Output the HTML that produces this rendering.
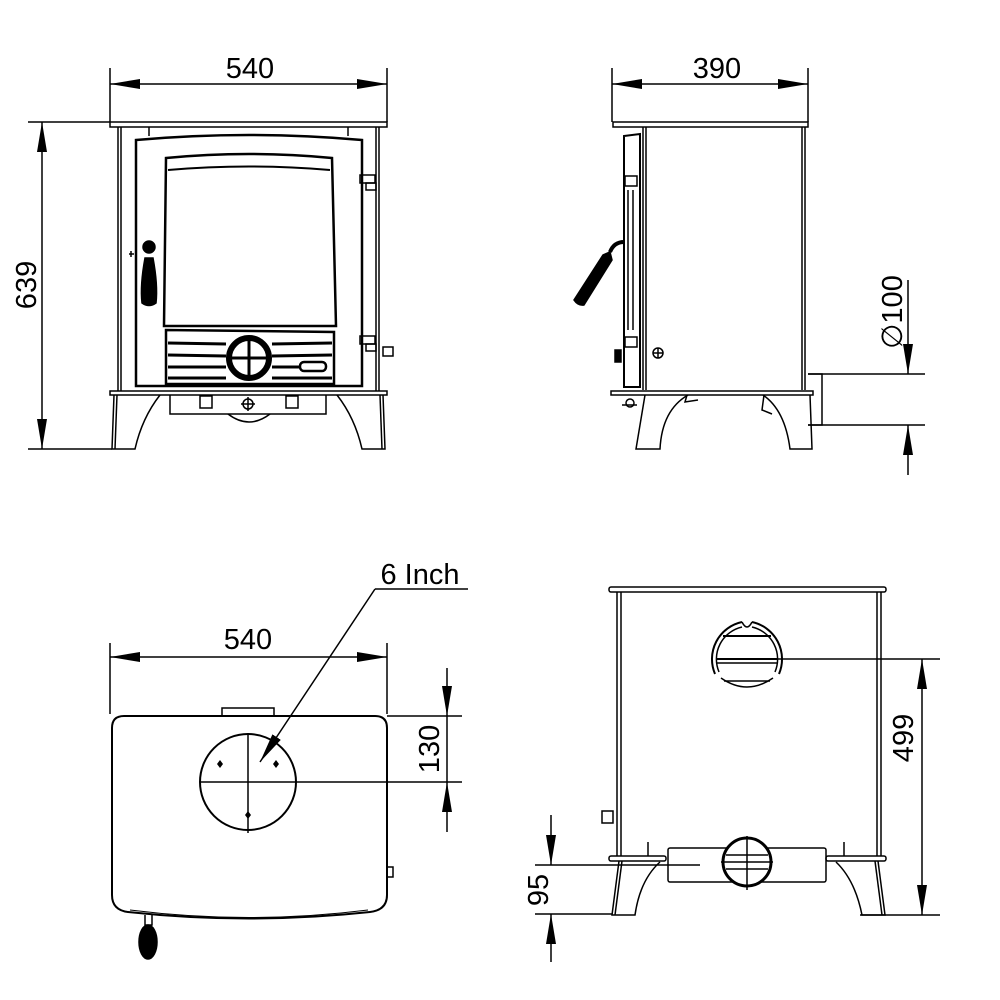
<!DOCTYPE html>
<html><head><meta charset="utf-8"><style>
html,body{margin:0;padding:0;background:#fff}
svg{display:block}
text{font-family:"Liberation Sans",Arial,sans-serif;fill:#000}
</style></head><body>
<svg width="1000" height="1000" viewBox="0 0 1000 1000" xmlns="http://www.w3.org/2000/svg">
<defs>
<marker id="a" viewBox="0 0 30 10" refX="30" refY="5" markerWidth="30" markerHeight="10" markerUnits="userSpaceOnUse" orient="auto"><path d="M0,0 L30,5 L0,10 z" fill="#000"/></marker>
</defs>
<g fill="none" stroke="#000" stroke-width="1.5">
<line x1="110" y1="68" x2="110" y2="122"/><line x1="387" y1="68" x2="387" y2="122"/>
<line x1="140" y1="84" x2="110" y2="84" marker-end="url(#a)"/>
<line x1="357" y1="84" x2="387" y2="84" marker-end="url(#a)"/>
<line x1="140" y1="84" x2="357" y2="84"/>
<line x1="28" y1="122" x2="110" y2="122"/><line x1="28" y1="449" x2="112" y2="449"/>
<line x1="42" y1="152" x2="42" y2="122" marker-end="url(#a)"/>
<line x1="42" y1="419" x2="42" y2="449" marker-end="url(#a)"/>
<line x1="42" y1="152" x2="42" y2="419"/>
<rect x="110" y="122" width="277" height="5"/>
<line x1="118" y1="127" x2="118" y2="391"/><line x1="121" y1="127" x2="121" y2="391"/>
<line x1="376" y1="127" x2="376" y2="391"/><line x1="379" y1="127" x2="379" y2="391"/>
<line x1="149" y1="127" x2="149" y2="136"/><line x1="348" y1="127" x2="348" y2="136"/>
<path d="M136,140 Q249,130 362,140 L362,386 L136,386 Z" stroke-width="2.5"/>
<path d="M166,158 Q249,150 332,158 L336,326 L164,326 Z" stroke-width="2.5"/>
<path d="M168,170 Q249,163 330,170" stroke-width="2"/>
<path d="M166,330 L334,332 L334,384 L166,384 Z" stroke-width="2.5"/>
<line x1="168" y1="343" x2="226" y2="344" stroke-width="3"/><line x1="272" y1="344" x2="332" y2="343" stroke-width="3"/>
<line x1="168" y1="355" x2="226" y2="356" stroke-width="3"/><line x1="272" y1="356" x2="332" y2="355" stroke-width="3"/>
<line x1="168" y1="367" x2="226" y2="367" stroke-width="3"/><line x1="272" y1="367" x2="300" y2="367" stroke-width="3"/>
<line x1="168" y1="378" x2="226" y2="378" stroke-width="3"/><line x1="272" y1="378" x2="332" y2="378" stroke-width="3"/>
<circle cx="249" cy="358" r="20" stroke-width="6" fill="#fff"/>
<line x1="232" y1="358" x2="266" y2="358" stroke-width="3"/><line x1="249" y1="341" x2="249" y2="375" stroke-width="3"/>
<rect x="300" y="362" width="26" height="9" rx="4" stroke-width="2.5"/>
<circle cx="149" cy="247" r="6" fill="#000"/>
<path d="M145,258 L153,258 Q158,285 156,303 Q149,308 142,303 Q140,285 145,258 Z" fill="#000"/>
<line x1="129" y1="254" x2="134" y2="254"/><line x1="131" y1="251" x2="131" y2="257"/>
<rect x="360" y="175" width="15" height="8"/><rect x="366" y="183" width="10" height="7"/>
<rect x="360" y="336" width="15" height="8"/><rect x="366" y="344" width="10" height="7"/>
<rect x="383" y="347" width="10" height="9"/>
<rect x="110" y="391" width="277" height="4"/>
<path d="M170,395 L170,414 L326,414 L326,395"/>
<path d="M228,414 Q249,430 270,414"/>
<rect x="200" y="396" width="12" height="12"/><rect x="286" y="396" width="12" height="12"/>
<circle cx="248" cy="404" r="5"/><line x1="248" y1="397" x2="248" y2="411"/><line x1="241" y1="404" x2="255" y2="404"/>
<path d="M114,395 L112,449 L135,449 Q142,418 160,395"/>
<line x1="117" y1="395" x2="115" y2="449"/>
<path d="M383,395 L385,449 L362,449 Q355,418 337,395"/>
<line x1="380" y1="395" x2="382" y2="449"/>

<line x1="612" y1="68" x2="612" y2="122"/><line x1="808" y1="68" x2="808" y2="122"/>
<line x1="642" y1="84" x2="612" y2="84" marker-end="url(#a)"/>
<line x1="778" y1="84" x2="808" y2="84" marker-end="url(#a)"/>
<line x1="642" y1="84" x2="778" y2="84"/>
<rect x="613" y="122" width="195" height="5"/>
<line x1="643" y1="127" x2="643" y2="390"/><line x1="646" y1="127" x2="646" y2="390"/>
<line x1="802" y1="127" x2="802" y2="390"/><line x1="805" y1="127" x2="805" y2="390"/>
<path d="M624,136 L640,134 L640,387 L624,387 Z" stroke-width="2"/>
<line x1="628" y1="190" x2="628" y2="330"/><line x1="633" y1="190" x2="633" y2="330"/>
<rect x="625" y="176" width="12" height="10"/><rect x="625" y="337" width="12" height="10"/>
<rect x="615" y="350" width="6" height="12" fill="#000"/>
<circle cx="658" cy="353" r="5"/><line x1="653" y1="353" x2="663" y2="353"/><line x1="658" y1="348" x2="658" y2="358"/>
<path d="M624,242 Q614,242 610,252" stroke-width="4"/>
<path d="M610,252 L603,255 L574,300 Q578,306 584,305 L612,260 Z" fill="#000"/>
<rect x="611" y="391" width="202" height="4"/>
<circle cx="630" cy="403" r="4"/><line x1="622" y1="405" x2="637" y2="405"/>
<path d="M687,395 L685,402 L698,400"/>
<path d="M764,395 L762,410 L772,414"/>
<path d="M645,395 L636,449 L660,449 Q662,410 688,395"/>
<path d="M810,395 L812,449 L790,449 Q785,410 763,395"/>
<path d="M808,374 L822,374 L822,425 L808,425"/>
<line x1="808" y1="374" x2="925" y2="374"/><line x1="808" y1="425" x2="925" y2="425"/>
<line x1="908" y1="280" x2="908" y2="374" marker-end="url(#a)"/>
<line x1="908" y1="475" x2="908" y2="425" marker-end="url(#a)"/>

<line x1="110" y1="643" x2="110" y2="714"/><line x1="387" y1="643" x2="387" y2="714"/>
<line x1="140" y1="657" x2="110" y2="657" marker-end="url(#a)"/>
<line x1="357" y1="657" x2="387" y2="657" marker-end="url(#a)"/>
<line x1="140" y1="657" x2="357" y2="657"/>
<path d="M124,716 L375,716 Q387,716 387,728 L387,895 Q387,910 370,912 Q249,925 128,912 Q112,910 112,895 L112,728 Q112,716 124,716 Z" stroke-width="2"/>
<path d="M130,910 Q249,925 368,910" stroke-width="1"/>
<rect x="222" y="708" width="52" height="8"/>
<rect x="387" y="867" width="6" height="10"/>
<circle cx="248" cy="782" r="48" stroke-width="2"/>
<line x1="200" y1="782" x2="462" y2="782"/><line x1="248" y1="733" x2="248" y2="833"/>
<line x1="387" y1="716" x2="462" y2="716"/>
<line x1="447" y1="668" x2="447" y2="716" marker-end="url(#a)"/>
<line x1="447" y1="832" x2="447" y2="782" marker-end="url(#a)"/>
<line x1="447" y1="716" x2="447" y2="782"/>
<line x1="375" y1="589" x2="260" y2="762" marker-end="url(#a)"/>
<line x1="375" y1="589" x2="468" y2="589"/>
<path d="M145,915 L145,925 L152,925 L152,915" />
<ellipse cx="148" cy="942" rx="9" ry="17" fill="#000"/>

<rect x="609" y="587" width="277" height="5" rx="2"/>
<line x1="617" y1="592" x2="617" y2="856"/><line x1="621" y1="592" x2="621" y2="856"/>
<line x1="877" y1="592" x2="877" y2="856"/><line x1="881" y1="592" x2="881" y2="856"/>
<path d="M742,622 A38,38 0 0 0 715,674 M752,622 A38,38 0 0 1 779,674" stroke-width="2"/>
<path d="M742,627 A33,33 0 0 0 719,672 M752,627 A33,33 0 0 1 775,672"/>
<path d="M742,622 Q747,632 752,622"/>
<line x1="723" y1="636" x2="771" y2="636" stroke-width="2"/>
<line x1="716" y1="659" x2="778" y2="659" stroke-width="2"/>
<line x1="716" y1="663" x2="778" y2="663"/>
<path d="M721,678 Q747,696 773,678"/><path d="M724,681 L770,681"/>
<line x1="747" y1="659" x2="940" y2="659"/>
<line x1="860" y1="915" x2="940" y2="915"/>
<line x1="922" y1="689" x2="922" y2="659" marker-end="url(#a)"/>
<line x1="922" y1="885" x2="922" y2="915" marker-end="url(#a)"/>
<line x1="922" y1="689" x2="922" y2="885"/>
<rect x="602" y="811" width="11" height="12"/>
<rect x="609" y="856" width="57" height="5" rx="2"/><rect x="826" y="856" width="60" height="5" rx="2"/>
<rect x="668" y="848" width="158" height="34" rx="2"/>
<circle cx="747" cy="862" r="24" stroke-width="3" fill="#fff"/>
<line x1="721" y1="862" x2="773" y2="862"/><line x1="747" y1="836" x2="747" y2="890"/>
<line x1="726" y1="855" x2="768" y2="855"/><line x1="726" y1="869" x2="768" y2="869"/>
<line x1="648" y1="842" x2="648" y2="856"/><line x1="844" y1="842" x2="844" y2="856"/>
<path d="M619,861 L612,915 L635,915 Q640,880 660,862"/>
<line x1="622" y1="861" x2="615" y2="915"/>
<path d="M878,861 L885,915 L862,915 Q855,880 836,862"/>
<line x1="875" y1="861" x2="882" y2="915"/>
<line x1="535" y1="865" x2="700" y2="865"/>
<line x1="535" y1="914" x2="612" y2="914"/>
<line x1="551" y1="815" x2="551" y2="865" marker-end="url(#a)"/>
<line x1="551" y1="962" x2="551" y2="914" marker-end="url(#a)"/>
</g>
<g fill="#000">
<path d="M220,760 l3,4 -3,4 -3,-4z"/><path d="M276,760 l3,4 -3,4 -3,-4z"/><path d="M248,811 l3,4 -3,4 -3,-4z"/>
</g>
<text x="250" y="78" font-size="29" text-anchor="middle">540</text>
<text x="717" y="78" font-size="29" text-anchor="middle">390</text>
<text x="248" y="649" font-size="29" text-anchor="middle">540</text>
<text x="420" y="584" font-size="29" text-anchor="middle">6 Inch</text>
<text transform="translate(36,285) rotate(-90)" font-size="29" text-anchor="middle">639</text>
<text transform="translate(439,749) rotate(-90)" font-size="29" text-anchor="middle">130</text>
<text transform="translate(913,738) rotate(-90)" font-size="29" text-anchor="middle">499</text>
<text transform="translate(548,890) rotate(-90)" font-size="29" text-anchor="middle">95</text>
<text transform="translate(902,312) rotate(-90)" font-size="29" text-anchor="middle">∅100</text>
</svg>
</body></html>
